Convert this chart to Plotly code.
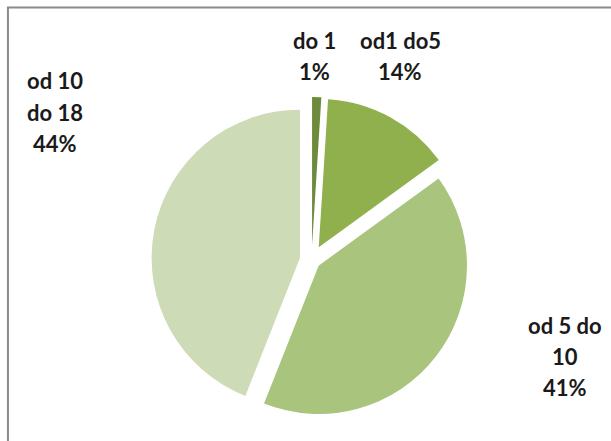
import plotly.graph_objects as go

labels = ["do 1", "od1 do5", "od 5 do 10", "od 10 do 18"]
label_lines = [["do 1", "1%"], ["od1 do5", "14%"], ["od 5 do", "10", "41%"], ["od 10", "do 18", "44%"]]
values = [1, 14, 41, 44]
colors = ["#6e8b3d", "#8fb04c", "#a9c47c", "#cddbb6"]

# label anchor positions (pixels: x centre, y of first line) and line spacing
W, H = 611, 441
label_pos = [(314, 40), (400, 40), (565, 325), (55, 81)]
line_gap = 31

fig = go.Figure(go.Pie(
    labels=labels,
    values=values,
    textinfo="none",
    sort=False,
    direction="clockwise",
    rotation=0,
    pull=[0.1, 0.1, 0.06, 0.08],
    marker=dict(colors=colors, line=dict(color="white", width=0)),
    domain=dict(x=[0.12, 0.9], y=[0.04, 0.78]),
    automargin=False,
    showlegend=False,
    hoverinfo="label+percent",
))

for lines, (px, py) in zip(label_lines, label_pos):
    for i, t in enumerate(lines):
        fig.add_annotation(x=px / W, y=1 - (py + i * line_gap) / H, xref="paper", yref="paper",
                           text=t, showarrow=False, xanchor="center", yanchor="middle",
                           font=dict(family="Lato", size=22, color="#1a1a1a", weight="bold"))

fig.update_layout(
    width=W, height=H,
    margin=dict(l=0, r=0, t=0, b=0, autoexpand=False),
    paper_bgcolor="white",
    plot_bgcolor="white",
    shapes=[dict(type="rect", xref="paper", yref="paper", x0=0.013, y0=-0.02, x1=1.02, y1=0.983,
                 line=dict(color="#8a8a8a", width=2), fillcolor="rgba(0,0,0,0)")],
)

fig.write_html("out.html")
